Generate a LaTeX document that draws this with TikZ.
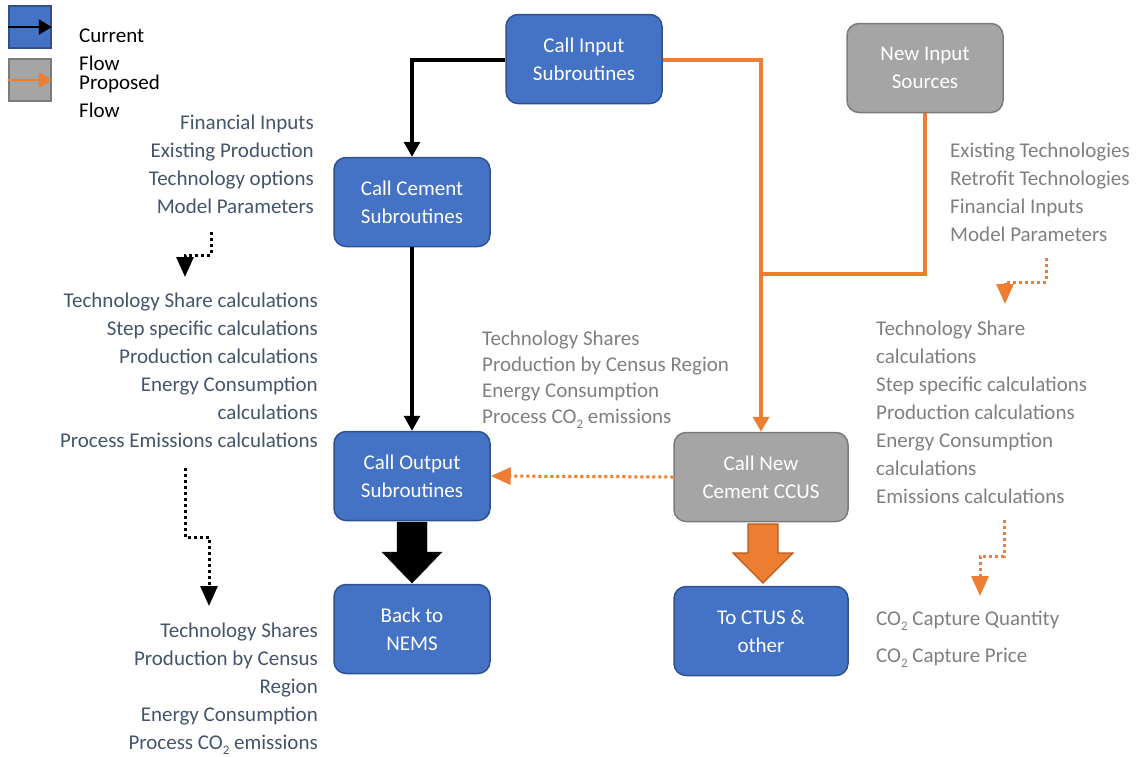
\documentclass[tikz,border=0pt]{standalone}
\usepackage{fontspec}
\setmainfont{Carlito}
\usetikzlibrary{arrows.meta,calc}
\definecolor{blueF}{HTML}{4472C4}
\definecolor{blueD}{HTML}{2F528F}
\definecolor{grayF}{HTML}{A5A5A5}
\definecolor{grayD}{HTML}{7B7B7B}
\definecolor{orng}{HTML}{ED7D31}
\definecolor{orngD}{HTML}{B85A1E}
\definecolor{slate}{HTML}{44546A}
\definecolor{gtext}{HTML}{7F7F7F}
\newcommand{\cotwo}{CO\raisebox{-0.55ex}{\fontsize{13}{13}\selectfont 2}}
\tikzset{
  box/.style={rounded corners=12pt,line width=1.5pt,minimum width=156pt,minimum height=89pt,
    align=center,text=white,font=\fontsize{21}{28}\selectfont,inner sep=0pt},
  bluebox/.style={box,fill=blueF,draw=blueD},
  graybox/.style={box,fill=grayF,draw=grayD},
  lbl/.style={inner sep=0pt,font=\fontsize{21}{28}\selectfont},
  ltxt/.style={lbl,text=slate,align=right,anchor=base east},
  rtxt/.style={lbl,text=gtext,align=left,anchor=base west},
  blk/.style={line width=3.3pt,-{Triangle[length=15pt,width=16pt]}},
  org/.style={line width=3.5pt,orng,-{Triangle[length=15pt,width=16pt]}},
  orgline/.style={line width=3.5pt,orng},
  dotblk/.style={line width=3pt,dash pattern=on 3pt off 3pt,-{Triangle[length=20pt,width=17pt]}},
  dotorg/.style={dotblk,orng},
}
\begin{document}
\begin{tikzpicture}[x=1pt,y=-1pt]
\useasboundingbox (0,0) rectangle (1136,756);
% legend
\node[fill=blueF,draw=blueD,line width=1.5pt,minimum size=42pt,inner sep=0pt] (legb) at (30,27) {};
\node[fill=grayF,draw=grayD,line width=1.5pt,minimum size=42pt,inner sep=0pt] (legg) at (30,80) {};
\draw[line width=2.5pt,-{Triangle[length=13pt,width=15pt]}] (legb.west) -- (legb.east);
\draw[line width=2.5pt,orng,-{Triangle[length=13pt,width=15pt]}] (legg.west) -- (legg.east);
\node[lbl,align=left,anchor=base west] (legt1) at (79,70) {Current\\Flow};
\node[lbl,align=left,anchor=base west] (legt2) at (79,117) {Proposed\\Flow};
% boxes
\node[bluebox] (inp) at (584,59) {Call Input\\Subroutines};
\node[graybox] (newinp) at (925,68) {New Input\\Sources};
\node[bluebox] (cem) at (412,202) {Call Cement\\Subroutines};
\node[bluebox] (out) at (412,476) {Call Output\\Subroutines};
\node[graybox,minimum width=174pt] (ccus) at (761,477) {Call New\\Cement CCUS};
\node[bluebox] (nems) at (412,629) {Back to\\NEMS};
\node[bluebox,minimum width=174pt] (ctus) at (761,631) {To CTUS \&\\other};
% connectors
\coordinate (j1) at (412,60);
\draw[blk] (inp.west |- j1) -- (j1) -- (j1 |- cem.north);
\draw[blk] (cem.south) -- (out.north);
\coordinate (j2) at (761,60);
\draw[org] (inp.east |- j2) -- (j2) -- (j2 |- ccus.north);
\coordinate (j3) at (925,274);
\coordinate (j4) at (761,274);
\draw[orgline] (newinp.south) -- (j3) -- (j4);
\draw[dotorg] (ccus.west) -- (out.east);
% block arrows
\draw[fill=black] (397,522) -- (427,522) -- (427,552) -- (442,552) -- (412,583) -- (382,552) -- (397,552) -- cycle;
\draw[fill=orng,draw=orngD,line width=1.2pt] (748,524) -- (778,524) -- (778,553) -- (793,553) -- (763,583) -- (733,553) -- (748,553) -- cycle;
% dotted arrows
\coordinate (d1) at (211,232); \coordinate (d1b) at (211,255); \coordinate (d1c) at (185,255); \coordinate (d1e) at (185,277);
\draw[dotblk] (d1) -- (d1b) -- (d1c) -- (d1e);
\coordinate (d2) at (185,468); \coordinate (d2b) at (185,537); \coordinate (d2c) at (209,537); \coordinate (d2e) at (209,606);
\draw[dotblk] (d2) -- (d2b) -- (d2c) -- (d2e);
\coordinate (d3) at (1046,258); \coordinate (d3b) at (1046,282); \coordinate (d3c) at (1005,282); \coordinate (d3e) at (1005,304);
\draw[dotorg] (d3) -- (d3b) -- (d3c) -- (d3e);
\coordinate (d4) at (1004,520); \coordinate (d4b) at (1004,556); \coordinate (d4c) at (980,556); \coordinate (d4e) at (980,596);
\draw[dotorg] (d4) -- (d4b) -- (d4c) -- (d4e);
% texts
\node[ltxt] (t1) at (314,213) {Financial Inputs\\Existing Production\\Technology options\\Model Parameters};
\node[ltxt] (t2) at (318,447) {Technology Share calculations\\Step specific calculations\\Production calculations\\Energy Consumption\\calculations\\Process Emissions calculations};
\node[ltxt] (t3) at (318,749) {Technology Shares\\Production by Census\\Region\\Energy Consumption\\Process \cotwo{} emissions};
\node[rtxt,font=\fontsize{21}{26}\selectfont] (t4) at (482,423) {Technology Shares\\Production by Census Region\\Energy Consumption\\Process \cotwo{} emissions};
\node[rtxt] (t5) at (950,241) {Existing Technologies\\Retrofit Technologies\\Financial Inputs\\Model Parameters};
\node[rtxt] (t6) at (876,503) {Technology Share\\calculations\\Step specific calculations\\Production calculations\\Energy Consumption\\calculations\\Emissions calculations};
\node[rtxt,font=\fontsize{21}{37}\selectfont] (t7) at (876,662) {\cotwo{} Capture Quantity\\\cotwo{} Capture Price};
\end{tikzpicture}
\end{document}
